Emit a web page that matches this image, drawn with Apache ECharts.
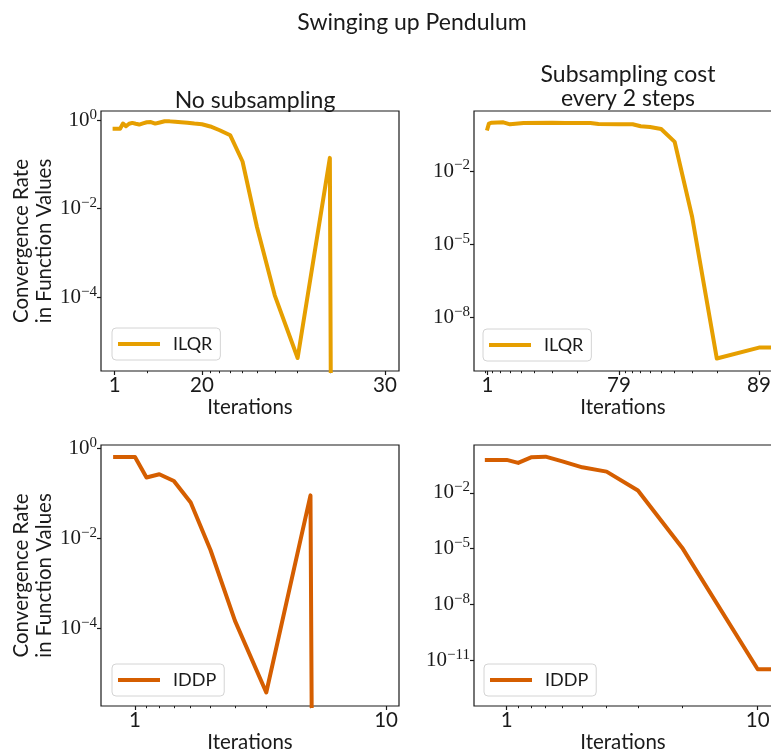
<!DOCTYPE html>
<html>
<head>
<meta charset="utf-8">
<title>Swinging up Pendulum</title>
<script src="https://cdn.jsdelivr.net/npm/echarts@6/dist/echarts.min.js"></script>
<style>
  html, body { margin: 0; padding: 0; background: #fff; }
  #chart { width: 771px; height: 753px; }
</style>
</head>
<body>
<div id="chart"></div>
<script>
// x = steps left before the last iteration, drawn on a reversed log axis
// 1e-300 stands for a rate of 0 (the line falls off the bottom)

// ILQR, no subsampling
var ilqrFullSteps = [30, 29, 28, 27, 26, 25, 24, 23, 22, 21, 20, 19, 18, 17, 16, 15,
                     14, 13, 12, 11, 10, 9, 8, 7, 6, 5, 4, 3, 2, 1];
var ilqrFullRate = [0.646, 0.646, 0.646, 0.841, 0.731, 0.832, 0.871, 0.832, 0.80, 0.851,
                    0.902, 0.912, 0.841, 0.891, 0.948, 0.944, 0.923, 0.902, 0.881, 0.841,
                    0.813, 0.724, 0.594, 0.457, 0.117, 0.0038, 1.1e-4, 4.2e-6, 0.141, 1e-300];

// ILQR, subsampling cost every 2 steps
var ilqrSubSteps = [87, 85, 81, 67, 60, 48, 30, 24, 16, 14, 10, 8, 7, 6, 5, 4, 3, 2, 1, 0.8];
var ilqrSubRate = [0.543, 0.871, 0.955, 0.984, 0.813, 0.923, 0.955, 0.923, 0.923, 0.839,
                   0.822, 0.817, 0.676, 0.631, 0.525, 0.155, 1.3e-4, 2.1e-10, 5.9e-10, 5.9e-10];

// IDDP, no subsampling
var iddpFullSteps = [12, 11, 10, 9, 8, 7, 6, 5, 4, 3, 2, 1];
var iddpFullRate = [0.65, 0.65, 0.65, 0.227, 0.269, 0.19, 0.063, 0.0055, 1.5e-4, 3.8e-6, 0.091, 1e-300];

// IDDP, subsampling cost every 2 steps
var iddpSubSteps = [12, 11, 10, 9, 8, 7, 6, 5, 4, 3, 2, 1, 0.8];
var iddpSubRate = [0.586, 0.586, 0.586, 0.405, 0.807, 0.879, 0.493, 0.235, 0.138, 0.0133,
                   1.13e-5, 3.3e-12, 3.3e-12];

// tick positions (in steps) and their labels
var ilqrFullTicks = [30, 10, 1];
var ilqrFullTickLabels = ['1', '20', '30'];
var ilqrSubTicks = [87, 10, 1];
var ilqrSubTickLabels = ['1', '79', '89'];
var iddpTicks = [10, 1];
var iddpTickLabels = ['1', '10'];

var ilqrFullMinor = [2, 3, 4, 5, 6, 7, 8, 9, 20];
var ilqrSubMinor = [2, 3, 4, 5, 6, 7, 8, 9, 20, 30, 40, 50, 60, 70, 80, 90];
var iddpMinor = [2, 3, 4, 5, 6, 7, 8, 9];

var ilqrFullRateTicks = [1, 1e-2, 1e-4];
var ilqrSubRateTicks = [1e-2, 1e-5, 1e-8];
var iddpFullRateTicks = [1, 1e-2, 1e-4];
var iddpSubRateTicks = [1e-2, 1e-5, 1e-8, 1e-11];

var SANS = 'Lato, "Open Sans", sans-serif';
var SERIF = '"Liberation Serif", "DejaVu Serif", serif';
var INK = '#1a1a1a';
var ORANGE = '#E69F00';
var VERMILION = '#D55E00';

var panels = [
    { grid: { left: 101, top: 111, width: 298, height: 260 }, xRange: [0.838, 35.6], yRange: [2.14e-6, 1.62],
      steps: ilqrFullSteps, rate: ilqrFullRate, name: 'ILQR', color: ORANGE,
      ticks: ilqrFullTicks, tickLabels: ilqrFullTickLabels, minor: ilqrFullMinor, yTicks: ilqrFullRateTicks,
      legend: { left: 112, top: 328 }, yName: true },
    { grid: { left: 474, top: 111, width: 298, height: 260 }, xRange: [0.807, 108.6], yRange: [6.5e-11, 2.86],
      steps: ilqrSubSteps, rate: ilqrSubRate, name: 'ILQR', color: ORANGE,
      ticks: ilqrSubTicks, tickLabels: ilqrSubTickLabels, minor: ilqrSubMinor, yTicks: ilqrSubRateTicks,
      legend: { left: 483, top: 329 }, yName: false },
    { grid: { left: 101, top: 445, width: 298, height: 261 }, xRange: [0.888, 13.66], yRange: [1.9e-6, 1.2],
      steps: iddpFullSteps, rate: iddpFullRate, name: 'IDDP', color: VERMILION,
      ticks: iddpTicks, tickLabels: iddpTickLabels, minor: iddpMinor, yTicks: iddpFullRateTicks,
      legend: { left: 112, top: 664 }, yName: true },
    { grid: { left: 474, top: 445, width: 298, height: 261 }, xRange: [0.877, 13.5], yRange: [3.5e-14, 3.72],
      steps: iddpSubSteps, rate: iddpSubRate, name: 'IDDP', color: VERMILION,
      ticks: iddpTicks, tickLabels: iddpTickLabels, minor: iddpMinor, yTicks: iddpSubRateTicks,
      legend: { left: 484, top: 664 }, yName: false }
];

function powerLabel(v) {
    var e = Math.round(Math.log10(v));
    return '{b|10}{s|' + (e < 0 ? '\u2212' + (-e) : e) + '}';
}

var option = {
    animation: false,
    backgroundColor: '#fff',
    title: [
        { text: 'Swinging up Pendulum', left: 407, top: 5, textAlign: 'center',
          textStyle: { fontFamily: SANS, fontSize: 23, fontWeight: 'normal', color: INK, lineHeight: 26 } },
        { text: 'No subsampling', left: 250, top: 83, textAlign: 'center',
          textStyle: { fontFamily: SANS, fontSize: 23, fontWeight: 'normal', color: INK, lineHeight: 26 } },
        { text: 'Subsampling cost\nevery 2 steps', left: 623, top: 58, textAlign: 'center',
          textStyle: { fontFamily: SANS, fontSize: 23, fontWeight: 'normal', color: INK, lineHeight: 24 } }
    ],
    grid: [],
    xAxis: [],
    yAxis: [],
    legend: [],
    series: []
};

panels.forEach(function (p, i) {
    // outerBoundsMode none: keep the grid where it is, even past the right edge
    option.grid.push({
        left: p.grid.left, top: p.grid.top, width: p.grid.width, height: p.grid.height,
        outerBoundsMode: 'none', containLabel: false,
        show: true, borderColor: INK, borderWidth: 1.2, backgroundColor: 'transparent'
    });

    // main x axis: labelled ticks
    option.xAxis.push({
        type: 'log', gridIndex: i, position: 'bottom', inverse: true, min: p.xRange[0], max: p.xRange[1],
        axisLine: { show: false },
        splitLine: { show: false },
        axisTick: { customValues: p.ticks, length: 4, lineStyle: { color: INK, width: 1.2 } },
        axisLabel: {
            customValues: p.ticks, margin: 4, color: INK, fontFamily: SANS, fontSize: 20.5,
            formatter: function (v) {
                for (var k = 0; k < p.ticks.length; k++) {
                    if (Math.abs(p.ticks[k] - v) < 1e-6 * p.ticks[k]) return p.tickLabels[k];
                }
                return '';
            }
        },
        name: 'Iterations', nameLocation: 'middle', nameGap: 26,
        nameTextStyle: { fontFamily: SANS, fontSize: 20.5, color: INK }
    });
    // second x axis: minor ticks only, also at the bottom
    option.xAxis.push({
        type: 'log', gridIndex: i, position: 'bottom', offset: 0, inverse: true,
        min: p.xRange[0], max: p.xRange[1],
        axisLine: { show: false },
        splitLine: { show: false },
        axisTick: { customValues: p.minor, length: 2.2, lineStyle: { color: INK, width: 1 } },
        axisLabel: { show: false }
    });

    var y = {
        type: 'log', gridIndex: i, min: p.yRange[0], max: p.yRange[1],
        axisLine: { show: false },
        splitLine: { show: false },
        axisTick: { customValues: p.yTicks, length: 4, lineStyle: { color: INK, width: 1.2 } },
        axisLabel: {
            customValues: p.yTicks, margin: 4, formatter: powerLabel,
            rich: {
                b: { fontFamily: SERIF, fontSize: 21, color: INK, lineHeight: 26 },
                s: { fontFamily: SERIF, fontSize: 15, color: INK, lineHeight: 15, verticalAlign: 'top' }
            }
        }
    };
    if (p.yName) {
        y.name = 'Convergence Rate\nin Function Values';
        y.nameLocation = 'middle';
        y.nameGap = 44;
        y.nameTextStyle = { fontFamily: SANS, fontSize: 20.5, color: INK, lineHeight: 23 };
    }
    option.yAxis.push(y);

    option.legend.push({
        data: [p.name], left: p.legend.left, top: p.legend.top,
        icon: 'rect', itemWidth: 42, itemHeight: 4, selectedMode: false,
        padding: [6, 8, 6, 6],
        borderColor: '#d4d4d4', borderWidth: 1, borderRadius: 4,
        backgroundColor: 'rgba(255,255,255,0.8)',
        textStyle: { fontFamily: SANS, fontSize: 18, color: INK, lineHeight: 20, padding: [0, 0, 0, 8] }
    });

    option.series.push({
        name: p.name, type: 'line', xAxisIndex: i * 2, yAxisIndex: i,
        data: p.steps.map(function (s, k) { return [s, p.rate[k]]; }),
        symbol: 'none', clip: true,
        lineStyle: { width: 4, color: p.color, cap: 'square', join: 'round' },
        itemStyle: { color: p.color }
    });
});

var chart = echarts.init(document.getElementById('chart'));
chart.setOption(option);
</script>
</body>
</html>
